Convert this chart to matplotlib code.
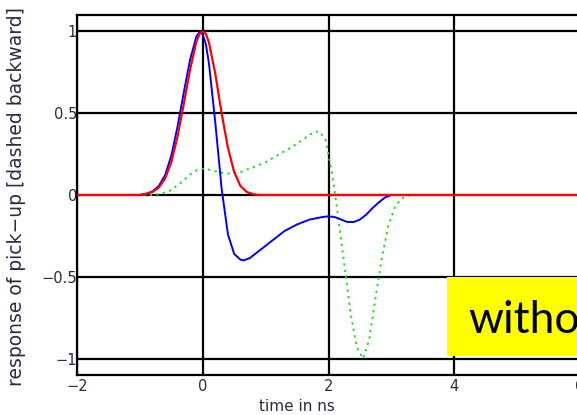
import numpy as np
import matplotlib.pyplot as plt
from matplotlib.patches import Rectangle

# forward pulse (red)
red_t = [-2.0, -1.0, -0.9, -0.8, -0.7, -0.6, -0.5, -0.4, -0.3, -0.2, -0.1, -0.05,
         0.0, 0.05, 0.1, 0.2, 0.3, 0.4, 0.5, 0.6, 0.7, 0.8, 0.9, 6.0]
red_v = [0.0, 0.0, 0.006, 0.018, 0.045, 0.10, 0.20, 0.36, 0.56, 0.77, 0.94, 0.985,
         1.0, 0.985, 0.93, 0.74, 0.50, 0.29, 0.14, 0.055, 0.018, 0.005, 0.0, 0.0]

# pick-up response (blue)
blue_t = [-2.0, -1.0, -0.9, -0.8, -0.7, -0.6, -0.5, -0.4, -0.3, -0.2, -0.1, -0.04,
          0.0, 0.05, 0.1, 0.2, 0.3, 0.4, 0.5, 0.6, 0.65, 0.75, 0.9, 1.1, 1.3, 1.5,
          1.7, 1.9, 2.0, 2.1, 2.2, 2.3, 2.4, 2.5, 2.6, 2.7, 2.8, 2.9, 3.0, 3.2]
blue_v = [0.0, 0.0, 0.008, 0.022, 0.055, 0.12, 0.24, 0.42, 0.63, 0.83, 0.97, 1.0,
          0.98, 0.92, 0.80, 0.44, 0.04, -0.24, -0.36, -0.395, -0.40, -0.385,
          -0.34, -0.28, -0.22, -0.18, -0.15, -0.135, -0.13, -0.135, -0.15,
          -0.165, -0.165, -0.15, -0.12, -0.08, -0.045, -0.015, 0.0, 0.0]

# backward response (green, dotted)
green_t = [-2.0, -0.8, -0.7, -0.6, -0.5, -0.4, -0.3, -0.2, -0.1, 0.0, 0.1, 0.2,
           0.3, 0.45, 0.6, 0.8, 1.0, 1.2, 1.4, 1.6, 1.75, 1.85, 1.95, 2.05,
           2.15, 2.25, 2.35, 2.45, 2.55, 2.65, 2.75, 2.85, 2.95, 3.05, 3.15,
           3.25, 3.3]
green_v = [0.0, 0.0, 0.005, 0.015, 0.03, 0.06, 0.09, 0.125, 0.15, 0.16, 0.155,
           0.145, 0.135, 0.13, 0.14, 0.17, 0.20, 0.245, 0.29, 0.34, 0.38, 0.39,
           0.34, 0.15, -0.12, -0.42, -0.72, -0.93, -1.0, -0.88, -0.62, -0.38,
           -0.19, -0.08, -0.025, -0.005, 0.0]

xticks = [-2, 0, 2, 4, 6]
yticks = [-1, -0.5, 0, 0.5, 1]
xticklabels = ['\u22122', '0', '2', '4', '6']
yticklabels = ['\u22121', '\u22120.5', '0', '0.5', '1']

txt = '#2a2a40'

fig = plt.figure(figsize=(5.77, 4.15), dpi=100)
ax = fig.add_axes([77 / 577, 40 / 415, 503 / 577, 360 / 415])

ax.plot(green_t, green_v, color='#22dd22', lw=1.4, ls=(0, (1.2, 2.2)), zorder=3)
ax.plot(blue_t, blue_v, color='blue', lw=1.4, zorder=4)
ax.plot(red_t, red_v, color='red', lw=1.6, zorder=5)

ax.set_xlim(-2, 6)
ax.set_ylim(-1.1, 1.1)
ax.set_xticks(xticks)
ax.set_yticks(yticks)
ax.set_xticklabels(xticklabels)
ax.set_yticklabels(yticklabels)
ax.grid(True, color='black', lw=1.6)
ax.set_axisbelow(True)
ax.tick_params(length=0, labelsize=10.5, labelcolor=txt)
ax.tick_params(axis='y', pad=0)
ax.tick_params(axis='x', pad=3)
for s in ax.spines.values():
    s.set_linewidth(1.6)
    s.set_color('black')

ax.set_xlabel('time in ns', fontsize=11, color=txt)
ax.xaxis.set_label_coords((297 - 77) / 503, -0.066)
ax.set_ylabel('response of pick\u2212up [dashed backward]', fontsize=13.5, color=txt)
ax.yaxis.set_label_coords((26 - 77) / 503, 0.495)

# yellow note box, running off the right edge
fig.patches.append(Rectangle((447 / 577, (415 - 356) / 415), 200 / 577, 79 / 415,
                             transform=fig.transFigure, fc='#ffff00', ec='none',
                             zorder=10))
fig.text(468 / 577, (415 - 333) / 415, 'witho', fontsize=32, family='Lato',
         color='black', va='baseline', ha='left', zorder=11)

fig.savefig('out.png', dpi=100)
